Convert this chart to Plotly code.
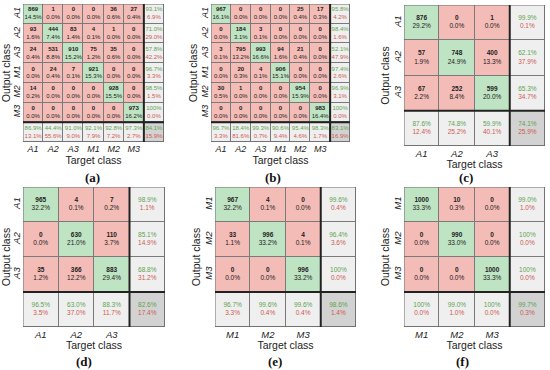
import plotly.graph_objects as go

# ---------------- data ----------------
labels_am = ["A1", "A2", "A3", "M1", "M2", "M3"]
labels_a = ["A1", "A2", "A3"]
labels_m = ["M1", "M2", "M3"]

cm_a = [[869, 1, 0, 0, 36, 27],
        [93, 444, 83, 4, 1, 0],
        [24, 531, 910, 75, 35, 0],
        [0, 24, 7, 921, 0, 0],
        [14, 0, 0, 0, 928, 0],
        [0, 0, 0, 0, 0, 973]]
cm_b = [[967, 0, 0, 0, 25, 17],
        [0, 184, 3, 0, 0, 0],
        [3, 795, 993, 94, 21, 0],
        [0, 20, 4, 906, 0, 0],
        [30, 1, 0, 0, 954, 0],
        [0, 0, 0, 0, 0, 983]]
cm_c = [[876, 0, 1], [57, 748, 400], [67, 252, 599]]
cm_d = [[965, 4, 7], [0, 630, 110], [35, 366, 883]]
cm_e = [[967, 4, 0], [33, 996, 4], [0, 0, 996]]
cm_f = [[1000, 10, 0], [0, 990, 0], [0, 0, 1000]]
tags = ["(a)", "(b)", "(c)", "(d)", "(e)", "(f)"]

panels = [(cm_a, labels_am), (cm_b, labels_am), (cm_c, labels_a),
          (cm_d, labels_a), (cm_e, labels_m), (cm_f, labels_m)]

# ---------------- geometry / style ----------------
W, H = 550, 370
# pixel boxes: x0, x1, y0, y1
boxes = [(23, 164, 4, 142), (211, 350, 4, 142), (404, 545, 5, 146),
         (23, 165, 187, 327), (215, 356, 187, 327), (404, 545, 187, 327)]
tag_pos = [(92, 177), (273, 177), (466, 177), (84, 361), (275, 361), (462, 361)]

PINK = "#f4bcb7"
GREEN = "#bfe4c3"
LGRAY = "#efefef"
DGRAY = "#d2d2d2"
TXT_G = "#5ea34f"
TXT_R = "#cc5a50"
FONT = "Arial, Liberation Sans, sans-serif"


def pct(v):
    p = round(v * 100, 1)
    return "100%" if p >= 100 else f"{p:.1f}%"


fig = go.Figure()
shapes = []
annotations = []
layout_axes = {}

for k, ((cm, labels), (x0, x1, y0, y1)) in enumerate(zip(panels, boxes)):
    idx = "" if k == 0 else str(k + 1)
    xa, ya = "x" + idx, "y" + idx
    n = len(cm)
    total = sum(sum(r) for r in cm)
    small = n > 3
    fs = 6 if small else 6.5

    z = []
    for i in range(n + 1):
        row = []
        for j in range(n + 1):
            if i < n and j < n:
                row.append(1 if i == j else 0)
            elif i == n and j == n:
                row.append(3)
            else:
                row.append(2)
        z.append(row)

    fig.add_trace(go.Heatmap(
        z=z, x=list(range(n + 1)), y=list(range(n + 1)),
        zmin=0, zmax=3, showscale=False, hoverinfo="skip",
        colorscale=[[0, PINK], [1 / 6, PINK], [1 / 6, GREEN], [0.5, GREEN],
                    [0.5, LGRAY], [5 / 6, LGRAY], [5 / 6, DGRAY], [1, DGRAY]],
        xgap=1, ygap=1, xaxis=xa, yaxis=ya))

    tx, ty, tt = [], [], []
    for i in range(n):
        for j in range(n):
            tx.append(j); ty.append(i)
            tt.append(f"<b>{cm[i][j]}</b><br>{pct(cm[i][j] / total)}")
    # row summaries (precision)
    for i in range(n):
        s = sum(cm[i])
        p = cm[i][i] / s if s else 0
        tx.append(n); ty.append(i)
        tt.append(f"<span style='color:{TXT_G}'>{pct(p)}</span><br>"
                  f"<span style='color:{TXT_R}'>{pct(1 - p)}</span>")
    # column summaries (recall)
    for j in range(n):
        s = sum(cm[i][j] for i in range(n))
        p = cm[j][j] / s if s else 0
        tx.append(j); ty.append(n)
        tt.append(f"<span style='color:{TXT_G}'>{pct(p)}</span><br>"
                  f"<span style='color:{TXT_R}'>{pct(1 - p)}</span>")
    acc = sum(cm[i][i] for i in range(n)) / total
    tx.append(n); ty.append(n)
    tt.append(f"<span style='color:{TXT_G}'>{pct(acc)}</span><br>"
              f"<span style='color:{TXT_R}'>{pct(1 - acc)}</span>")

    fig.add_trace(go.Scatter(
        x=tx, y=ty, text=tt, mode="text", textposition="middle center",
        textfont=dict(size=fs, color="#222222", family=FONT),
        hoverinfo="skip", showlegend=False, xaxis=xa, yaxis=ya))

    # outer border and thick separators
    shapes.append(dict(type="rect", xref=xa, yref=ya, x0=-0.5, x1=n + 0.5,
                       y0=-0.5, y1=n + 0.5, line=dict(color="#6a6a6a", width=1)))
    shapes.append(dict(type="line", xref=xa, yref=ya, x0=n - 0.5, x1=n - 0.5,
                       y0=-0.5, y1=n + 0.5, line=dict(color="#222222", width=2)))
    shapes.append(dict(type="line", xref=xa, yref=ya, x0=-0.5, x1=n + 0.5,
                       y0=n - 0.5, y1=n - 0.5, line=dict(color="#222222", width=2)))

    tick_fs = 9 if small else 9.5
    layout_axes["xaxis" + idx] = dict(
        domain=[x0 / W, x1 / W], anchor=ya, range=[-0.5, n + 0.5],
        tickvals=list(range(n)), ticktext=labels, ticks="", showgrid=False,
        zeroline=False, showline=False, fixedrange=True, automargin=False,
        tickfont=dict(size=tick_fs, family=FONT, color="#222", style="italic"),
        title=dict(text="Target class", standoff=0,
                   font=dict(size=10.5, family=FONT, color="#222")))
    layout_axes["yaxis" + idx] = dict(
        domain=[1 - y1 / H, 1 - y0 / H], anchor=xa, range=[n + 0.5, -0.5],
        tickvals=list(range(n)), ticktext=labels, ticks="", showgrid=False,
        zeroline=False, showline=False, fixedrange=True, automargin=False,
        tickangle=-90,
        tickfont=dict(size=tick_fs, family=FONT, color="#222", style="italic"),
        title=dict(text="Output class", standoff=0,
                   font=dict(size=10.5, family=FONT, color="#222")))

    tx0, ty0 = tag_pos[k]
    annotations.append(dict(text=f"<b>{tags[k]}</b>", x=tx0 / W, y=1 - ty0 / H,
                            xref="paper", yref="paper", showarrow=False,
                            xanchor="center", yanchor="middle",
                            font=dict(size=13, family="Liberation Serif, serif",
                                      color="#111")))

fig.update_layout(
    width=W, height=H, autosize=False, template="none",
    margin=dict(l=0, r=0, t=0, b=0),
    paper_bgcolor="white", plot_bgcolor="#7a7a7a",
    showlegend=False, shapes=shapes, annotations=annotations,
    **layout_axes)

fig.write_html("out.html", config={"displayModeBar": False},
               post_script="document.body.style.margin='0';"
                           "document.body.style.overflow='hidden';")
